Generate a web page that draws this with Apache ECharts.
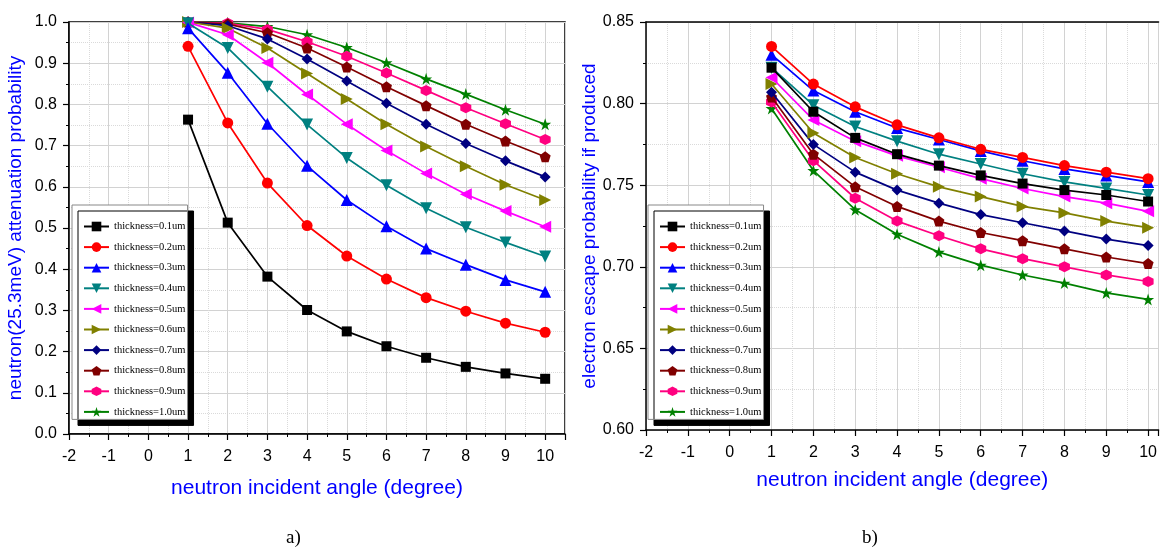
<!DOCTYPE html>
<html>
<head>
<meta charset="utf-8">
<script src="https://cdn.jsdelivr.net/npm/echarts@6/dist/echarts.min.js"></script>
<style>
  html, body { margin: 0; padding: 0; background: #fff; }
  #chart { width: 1160px; height: 548px; }
</style>
</head>
<body>
<div id="chart"></div>
<script>
// incident angles (degree)
var angles = [1, 2, 3, 4, 5, 6, 7, 8, 9, 10]
var thickness = ['0.1', '0.2', '0.3', '0.4', '0.5', '0.6', '0.7', '0.8', '0.9', '1.0']

// a) neutron(25.3meV) attenuation probability
var att01 = [0.763, 0.513, 0.382, 0.301, 0.249, 0.213, 0.185, 0.163, 0.147, 0.134]
var att02 = [0.941, 0.755, 0.609, 0.506, 0.432, 0.376, 0.331, 0.298, 0.269, 0.247]
var att03 = [0.985, 0.877, 0.753, 0.651, 0.568, 0.504, 0.450, 0.411, 0.374, 0.345]
var att04 = [0.997, 0.937, 0.843, 0.751, 0.670, 0.604, 0.548, 0.502, 0.465, 0.431]
var att05 = [0.999, 0.969, 0.901, 0.824, 0.752, 0.688, 0.632, 0.582, 0.541, 0.503]
var att06 = [1.000, 0.985, 0.937, 0.875, 0.813, 0.752, 0.698, 0.650, 0.605, 0.568]
var att07 = [1.000, 0.991, 0.959, 0.910, 0.857, 0.803, 0.752, 0.705, 0.663, 0.624]
var att08 = [1.000, 0.995, 0.974, 0.937, 0.891, 0.843, 0.797, 0.752, 0.711, 0.673]
var att09 = [1.000, 0.997, 0.982, 0.952, 0.917, 0.876, 0.834, 0.792, 0.753, 0.715]
var att10 = [1.000, 0.998, 0.989, 0.969, 0.938, 0.901, 0.862, 0.825, 0.787, 0.752]

// b) electron escape probability if produced
var esc01 = [0.822, 0.795, 0.779, 0.769, 0.762, 0.756, 0.751, 0.747, 0.744, 0.740]
var esc02 = [0.835, 0.812, 0.798, 0.787, 0.779, 0.772, 0.767, 0.762, 0.758, 0.754]
var esc03 = [0.830, 0.808, 0.795, 0.785, 0.778, 0.771, 0.765, 0.760, 0.756, 0.752]
var esc04 = [0.822, 0.799, 0.786, 0.777, 0.769, 0.763, 0.757, 0.752, 0.748, 0.744]
var esc05 = [0.816, 0.790, 0.777, 0.768, 0.761, 0.754, 0.748, 0.743, 0.739, 0.734]
var esc06 = [0.812, 0.782, 0.767, 0.757, 0.749, 0.743, 0.737, 0.733, 0.728, 0.724]
var esc07 = [0.807, 0.775, 0.758, 0.747, 0.739, 0.732, 0.727, 0.722, 0.717, 0.713]
var esc08 = [0.804, 0.769, 0.749, 0.737, 0.728, 0.721, 0.716, 0.711, 0.706, 0.702]
var esc09 = [0.801, 0.765, 0.742, 0.728, 0.719, 0.711, 0.705, 0.700, 0.695, 0.691]
var esc10 = [0.797, 0.759, 0.735, 0.720, 0.709, 0.701, 0.695, 0.690, 0.684, 0.680]

var attData = [att01, att02, att03, att04, att05, att06, att07, att08, att09, att10]
var escData = [esc01, esc02, esc03, esc04, esc05, esc06, esc07, esc08, esc09, esc10]

// styles (Origin-like)
var colors = ['#000000', '#ff0000', '#0000ff', '#008080', '#ff00ff',
  '#808000', '#000080', '#800000', '#ff0080', '#008000']
var symbols = [
  'rect',
  'circle',
  'triangle',
  'path://M0,0L10,0L5,9Z', // down
  'path://M9,0L9,10L0,5Z', // left
  'path://M0,0L0,10L9,5Z', // right
  'path://M5,0L10,5L5,10L0,5Z', // diamond
  'path://M5,0L10,3.8L8.1,10L1.9,10L0,3.8Z', // pentagon
  'path://M5,0L9.33,2.5L9.33,7.5L5,10L0.67,7.5L0.67,2.5Z', // hexagon
  'path://M5,0L6.2,3.6L10,3.6L6.9,5.9L8.1,9.5L5,7.3L1.9,9.5L3.1,5.9L0,3.6L3.8,3.6Z' // star
]
var symSizes = [10, 11, 12, 12, 12, 12, 11, 11, 11, 12]

var blue = '#0000ff'
var names = thickness.map(function (t) { return 'thickness=' + t + 'um' })

function makeSeries(dataSets, idx) {
  return dataSets.map(function (vals, i) {
    return {
      name: names[i],
      type: 'line',
      xAxisIndex: idx,
      yAxisIndex: idx,
      symbol: symbols[i],
      symbolSize: symSizes[i],
      showAllSymbol: true,
      clip: false,
      z: 10 - i,
      color: colors[i],
      lineStyle: { width: 1.7, color: colors[i] },
      itemStyle: { color: colors[i] },
      data: angles.map(function (a, j) { return [a, vals[j]] })
    }
  })
}

function xAxis(gridIndex, max, gap) {
  return {
    type: 'value',
    gridIndex: gridIndex,
    min: -2,
    max: max,
    interval: 1,
    name: 'neutron incident angle (degree)',
    nameLocation: 'middle',
    nameGap: gap,
    nameTextStyle: { color: blue, fontSize: 21, fontFamily: 'Liberation Sans' },
    axisLine: { onZero: false, lineStyle: { color: '#000', width: 1.5 } },
    axisTick: { length: 6, lineStyle: { color: '#000', width: 1.2 } },
    minorTick: { show: true, splitNumber: 2, length: 3, lineStyle: { color: '#000' } },
    axisLabel: { color: '#000', fontSize: 16, fontFamily: 'Liberation Sans', margin: 15, showMaxLabel: false },
    splitLine: { show: true, lineStyle: { color: '#d2d2d2', width: 1 } },
    minorSplitLine: { show: true, lineStyle: { color: '#dadada', type: 'dotted', width: 1 } }
  }
}

function yAxis(gridIndex, opts) {
  return {
    type: 'value',
    gridIndex: gridIndex,
    min: opts.min,
    max: opts.max,
    interval: opts.interval,
    name: opts.name,
    nameLocation: 'middle',
    nameGap: opts.gap,
    nameTextStyle: { color: blue, fontSize: 19, fontFamily: 'Liberation Sans' },
    axisLine: { onZero: false, lineStyle: { color: '#000', width: 1.5 } },
    axisTick: { length: 6, lineStyle: { color: '#000', width: 1.2 } },
    minorTick: { show: true, splitNumber: 2, length: 3, lineStyle: { color: '#000' } },
    axisLabel: {
      color: '#000', fontSize: 16, fontFamily: 'Liberation Sans', margin: 12,
      formatter: function (v) { return v.toFixed(opts.digits) }
    },
    splitLine: { show: true, lineStyle: { color: '#d2d2d2', width: 1 } },
    minorSplitLine: { show: true, lineStyle: { color: '#dadada', type: 'dotted', width: 1 } }
  }
}

function legend(left, top) {
  return {
    orient: 'vertical',
    left: left,
    top: top,
    data: names,
    itemWidth: 25,
    itemHeight: 12,
    itemGap: 9.6,
    padding: [16, 2, 2, 11],
    backgroundColor: '#fff',
    borderColor: '#888',
    borderWidth: 1,
    shadowColor: '#000',
    shadowBlur: 0,
    shadowOffsetX: 6,
    shadowOffsetY: 6,
    selectedMode: false,
    textStyle: { fontFamily: 'Liberation Serif', fontSize: 10.5, color: '#000' }
  }
}

var chart = echarts.init(document.getElementById('chart'))
chart.setOption({
  backgroundColor: '#fff',
  animation: false,
  title: [
    { text: 'a)', left: 281, top: 524, textStyle: { fontFamily: 'Liberation Serif', fontSize: 19, fontWeight: 'normal', color: '#000' } },
    { text: 'b)', left: 857, top: 524, textStyle: { fontFamily: 'Liberation Serif', fontSize: 19, fontWeight: 'normal', color: '#000' } }
  ],
  grid: [
    { left: 69, top: 22, width: 496, height: 412, show: true, borderColor: '#000', borderWidth: 1.5, backgroundColor: 'transparent' },
    // right frame of b) lies outside the picture, only the top line shows
    { left: 646, top: 22, right: 0, height: 408, show: false }
  ],
  legend: [legend(72, 205), legend(648, 205)],
  xAxis: [
    xAxis(0, 10.5, 44),
    xAxis(1, 10.25, 40),
    {
      type: 'value', gridIndex: 1, position: 'top', min: -2, max: 10.25,
      axisLine: { show: true, lineStyle: { color: '#000', width: 1.5 } },
      axisTick: { show: false }, axisLabel: { show: false }, splitLine: { show: false }
    }
  ],
  yAxis: [
    yAxis(0, { min: 0, max: 1, interval: 0.1, digits: 1, gap: 44, name: 'neutron(25.3meV) attenuation probability' }),
    yAxis(1, { min: 0.6, max: 0.85, interval: 0.05, digits: 2, gap: 46, name: 'electron escape probability if produced' })
  ],
  series: makeSeries(attData, 0).concat(makeSeries(escData, 1))
})
</script>
</body>
</html>
